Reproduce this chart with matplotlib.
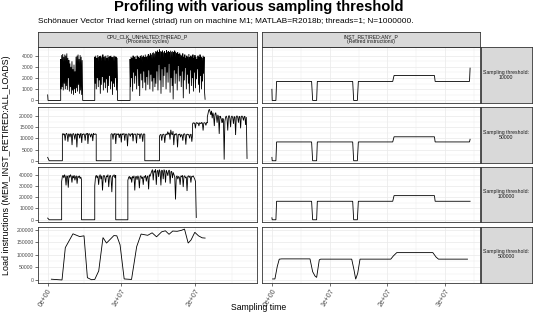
import numpy as np
import matplotlib
matplotlib.use("Agg")
import matplotlib.pyplot as plt
from matplotlib.ticker import MultipleLocator, FixedLocator, FixedFormatter, AutoMinorLocator, FuncFormatter

plt.rcParams['font.family'] = ['Liberation Sans', 'DejaVu Sans']

# ---------------- text ----------------
TITLE = "Profiling with various sampling threshold"
SUBTITLE = "Schönauer Vector Triad kernel (striad) run on machine M1; MATLAB=R2018b; threads=1; N=1000000."
col_labels = ["CPU_CLK_UNHALTED:THREAD_P\n(Processor cycles)", "INST_RETIRED:ANY_P\n(Retired instructions)"]
thresholds = [10000, 50000, 100000, 500000]
ylabel = "Load instructions (MEM_INST_RETIRED:ALL_LOADS)"
xlabel = "Sampling time"
y_steps = [1000, 5000, 10000, 50000]
x_ticks = [0, 1e7, 2e7, 3e7]
x_ticklabels = ["0e+00", "1e+07", "2e+07", "3e+07"]
TIME_UNIT = 1e7

# ---------------- data: left column (CPU cycles), segments (t0, t1, values) ----------------
r1_cyc_hi1 = [3700, 1000, 4050, 1200, 4150, 900, 3900, 1500, 4100, 1000, 4000, 1300, 4200, 950,
              3800, 2000, 3600, 800, 3300, 1200, 3000, 600, 3500, 900, 2800, 500, 3200, 1000, 2600,
              700, 3900, 1100, 4000, 800, 4100, 1400, 3700, 600, 4050, 900, 3900, 500, 3600, 400]
r1_cyc_hi2 = [3900, 1500, 4000, 1000, 3800, 2000, 4050, 1200, 3900, 1800, 3950, 600, 4000, 1400,
              3850, 2100, 4100, 900, 3900, 1600, 3950, 1100, 4000, 1900, 3800, 700, 4050, 1300, 3900,
              2200, 3950, 1000, 4000, 1700, 3850, 500, 3900, 1500, 4000, 1200, 3950, 2000, 3900, 900,
              3800, 1600]
r1_cyc_hi3 = [3700, 1200, 3900, 2000, 3800, 800, 4000, 2500, 3850, 1500, 3950, 2200, 3700, 1000,
              4000, 2800, 3900, 1300, 3800, 400, 3950, 2400, 4050, 1800, 3900, 1100, 4000, 2600, 3850,
              1600, 4100, 900, 3900, 2100, 4000, 1400, 4150, 2700, 4000, 1000, 4200, 2300, 4100, 1700,
              4250, 800, 4300, 2000, 4200, 1200,
              4400, 1500, 4350, 2600, 4450, 900, 4300, 3200, 4550, 1800, 4400, 600, 4350, 2800, 4450,
              1200, 4300, 2200, 4400, 3000, 4250, 1000, 4500, 2500, 4350, 1600, 4400, 3300, 4300, 700,
              4450, 2000, 4350, 1300, 4400, 100, 4300, 2700, 4450, 1500, 4350, 2400, 4200, 900, 4300,
              3100, 4150, 1700, 4250, 2200,
              4100, 1200, 4000, 2600, 4200, 200, 3900, 1800, 4100, 2900, 3800, 1000, 4000, 2300, 3900,
              1500, 4150, 600, 3850, 2700, 4000, 1300, 3900, 2000, 4100, 800, 3800, 2500, 4050, 1100,
              3900, 1900, 3700, 2800, 4000, 1400, 3850, 700, 4100, 2200, 3900, 1000, 3800, 1700, 4000,
              2400, 3900, 700, 100]
r1_cyc = [(0.0, 0.005, [500, 0]), (0.005, 0.177, [0, 0]), (0.177, 0.476, r1_cyc_hi1),
          (0.476, 0.64, [0, 0]), (0.64, 0.95, r1_cyc_hi2), (0.95, 1.12, [0, 0]),
          (1.12, 2.14, r1_cyc_hi3)]

r2_cyc_hi1 = [11800, 12200, 11500, 12000, 9000, 11800, 12300, 11600, 8500, 12000, 11900, 10500, 12100,
              11700, 7000, 11900, 12200, 11400, 9500, 12000, 11800, 6000, 12100, 11600, 12000, 10000,
              11800, 12200, 8000, 11900, 11700, 12100, 11500, 9000, 12000, 11800, 12300, 7500, 11900,
              12100, 11600, 10500, 12000, 11800, 8800, 12200, 11900, 11700, 12000, 11800]
r2_cyc_hi2 = [11700, 12100, 11900, 9500, 12000, 11800, 12200, 7500, 11900, 12000, 11600, 12100, 10200,
              11800, 12000, 8200, 12100, 11700, 11900, 12200, 9000, 11800, 12000, 11600, 6500, 11900,
              12100, 11800, 10800, 12000, 11700, 12200, 8700, 11900, 11800, 12000, 11500, 7800, 12100,
              11900, 11700, 12000, 9800, 11800, 12100, 11600, 8500, 11900, 12000, 11800]
r2_cyc_hi3 = [11000, 11600, 11800, 9000, 11500, 11900, 11700, 8000, 11600, 12000, 11500, 13000, 11800,
              12500, 9500, 13800, 12000, 11600, 13200, 7000, 11900, 11500, 12200, 11700, 6000, 11800,
              11600, 12000, 10500, 11700, 11500, 9000, 11800, 12100, 11600, 7200, 11700, 11900, 11500,
              11800, 10000, 11600, 11900, 8500, 11700]
r2_cyc_hi4 = [16500, 17000, 16700, 16900, 14500, 16800, 17100, 16600, 16900, 15500, 17000, 16800,
              16500, 17200, 16700, 13500, 16900, 17000, 16800, 15800, 17100, 16900]
r2_cyc_hi5 = [19500, 21000, 22500, 23000, 21800, 20500, 22300, 19000, 21500, 20000, 15500, 20800,
              21500, 19800, 17000, 20500, 19600, 12000, 20000, 19500, 18500, 17500]
r2_cyc_hi6 = [17000, 19000, 18500, 500, 17500, 19500, 20000, 18800, 13500, 19800, 20200, 19000, 15000,
              19600, 20000, 19200, 16500, 19800, 19500, 11500, 19700, 20100, 19300, 17000, 19900,
              19600, 14500, 19800, 20000, 19400, 18000, 19700, 19900, 16000, 19500, 1000]
r2_cyc = [(0.0, 0.02, [1500, 0]), (0.02, 0.2, [0, 0]), (0.2, 0.66, r2_cyc_hi1),
          (0.66, 0.86, [0, 0]), (0.86, 1.32, r2_cyc_hi2), (1.32, 1.52, [0, 0]),
          (1.52, 1.97, r2_cyc_hi3), (1.97, 2.17, r2_cyc_hi4), (2.17, 2.37, r2_cyc_hi5),
          (2.37, 2.71, r2_cyc_hi6)]

r3_cyc_hi1 = [34000, 38500, 39500, 37000, 40000, 38000, 30500, 39000, 38500, 28500, 39500, 37500,
              40000, 38500, 33000, 39000, 37000, 39500, 35000, 38000, 39000, 32000, 38500, 37500,
              39000, 36500, 38000, 35500]
r3_cyc_hi2 = [30000, 38000, 39500, 37000, 39000, 31000, 38500, 40000, 36000, 39000, 26000, 38500,
              39500, 37500, 33000, 39000, 38000, 40000, 29000, 38500, 39500, 37000, 24500, 39000,
              38500, 40000, 37000, 39500]
r3_cyc_hi3 = [35000, 37500, 38500, 36000, 38000, 33000, 38500, 37000, 39000, 26000, 38000, 38500,
              35500, 39000, 37500, 28000, 38500, 39000, 36500, 38000, 31000, 38500, 37500, 39500,
              34000, 38000, 39000, 27000, 40000, 38500, 41000,
              43000, 44500, 35000, 43500, 42000, 44800, 31000, 43000, 44000, 38000, 44500, 42500,
              30500, 44000, 43500, 36000, 44500, 43000, 33000, 44000, 42000, 39000, 43500, 44000,
              32000, 42500, 43000, 37000, 42000, 40000, 38000,
              18000, 38000, 39000, 36000, 38500, 37500, 31000, 39000, 38000, 39500, 29000, 38500,
              39000, 37000, 38000, 25500, 38500, 39000, 37500, 39000, 33000, 38500, 38000, 39000,
              37500, 36000, 34000, 2000]
r3_cyc = [(0.0, 0.02, [1500, 0]), (0.02, 0.19, [0, 0]), (0.19, 0.46, r3_cyc_hi1),
          (0.46, 0.64, [0, 0]), (0.64, 0.925, r3_cyc_hi2), (0.925, 1.09, [0, 0]),
          (1.09, 2.02, r3_cyc_hi3)]

r4_cyc_t = [0.05, 0.195, 0.24, 0.344, 0.435, 0.494, 0.54, 0.595, 0.64, 0.694, 0.752, 0.80, 0.90,
            0.94, 0.984, 1.04, 1.14, 1.21, 1.27, 1.36, 1.42, 1.48, 1.55, 1.60, 1.65, 1.70, 1.76,
            1.82, 1.86, 1.91, 1.95, 2.00, 2.05, 2.10, 2.14]
r4_cyc_v = [3000, 0, 129000, 184000, 173000, 176000, 9000, 1000, 2000, 36000, 169000, 147000, 177000,
            176000, 140000, 4000, 2000, 133000, 183000, 178000, 188000, 172000, 192000, 196000,
            182000, 195000, 194000, 198000, 203000, 147000, 160000, 190000, 176000, 168000, 167000]

# ---------------- data: right column (retired instructions) ----------------
ins_t = [0.0, 0.005, 0.069, 0.081, 0.687, 0.705, 0.774, 0.786, 1.398, 1.415, 1.479, 1.496,
         2.091, 2.114, 2.813, 2.825, 3.42, 3.43]
r1_ins_v = [1000, 0, 0, 1700, 1700, 0, 0, 1700, 1700, 0, 0, 1700, 1700, 2230, 2230, 1700, 1700, 2890]
r2_ins_v = [1500, 0, 0, 8400, 8400, 0, 0, 8400, 8400, 0, 0, 8400, 8400, 10700, 10700, 8400, 8400, 9600]
r3_ins_v = [1800, 0, 0, 16400, 16400, 0, 0, 16400, 16400, 0, 0, 16400, 16400, 21400, 21400, 16400,
            16400, 16400]
r4_ins_t = [0.012, 0.052, 0.092, 0.127, 0.168, 0.659, 0.705, 0.745, 0.774, 0.820, 0.843, 1.381, 1.421,
            1.450, 1.485, 1.525, 2.057, 2.103, 2.161, 2.785, 2.842, 2.883, 3.385]
r4_ins_v = [4000, 4000, 53000, 82800, 84000, 84000, 33000, 16000, 10000, 80000, 83000, 83000, 40000,
            3000, 27000, 83000, 83000, 96000, 109000, 109000, 91000, 83000, 83000]


def from_segments(segs):
    ts, vs = [], []
    for t0, t1, vals in segs:
        ts.append(np.linspace(t0, t1, len(vals)))
        vs.append(np.asarray(vals, dtype=float))
    return np.concatenate(ts) * TIME_UNIT, np.concatenate(vs)


left = [from_segments(r1_cyc), from_segments(r2_cyc), from_segments(r3_cyc),
        (np.asarray(r4_cyc_t) * TIME_UNIT, np.asarray(r4_cyc_v, dtype=float))]
right = [(np.asarray(ins_t) * TIME_UNIT, np.asarray(r1_ins_v, dtype=float)),
         (np.asarray(ins_t) * TIME_UNIT, np.asarray(r2_ins_v, dtype=float)),
         (np.asarray(ins_t) * TIME_UNIT, np.asarray(r3_ins_v, dtype=float)),
         (np.asarray(r4_ins_t) * TIME_UNIT, np.asarray(r4_ins_v, dtype=float))]
grid_data = [[left[r], right[r]] for r in range(4)]


def expand(lo, hi, m=0.05):
    d = hi - lo
    return lo - m * d, hi + m * d


col_xlim = []
for c in range(2):
    allt = np.concatenate([grid_data[r][c][0] for r in range(4)])
    col_xlim.append(expand(allt.min(), allt.max()))
row_ylim = []
for r in range(4):
    allv = np.concatenate([grid_data[r][c][1] for c in range(2)])
    row_ylim.append(expand(allv.min(), allv.max()))

# ---------------- layout (pixels) ----------------
W, H = 536, 313
fig = plt.figure(figsize=(W / 100, H / 100), dpi=100)


def rect(x0, x1, y0, y1):
    return [x0 / W, 1 - y1 / H, (x1 - x0) / W, (y1 - y0) / H]


col_px = [(37.7, 257.0), (262.0, 480.0)]
row_px = [(47.0, 103.0), (106.7, 163.3), (166.7, 222.3), (226.5, 282.5)]
strip_top = (31.5, 47.0)
strip_right = (481.0, 531.5)

BORDER = "#333333"
GRID = "#EBEBEB"
TICKC = "#4D4D4D"
STRIPF = "#D9D9D9"
small = 3.7

for r in range(4):
    for c in range(2):
        ax = fig.add_axes(rect(col_px[c][0], col_px[c][1], row_px[r][0], row_px[r][1]))
        t, v = grid_data[r][c]
        ax.plot(t, v, color="black", lw=0.6, solid_joinstyle="miter")
        ax.set_xlim(*col_xlim[c])
        ax.set_ylim(*row_ylim[r])
        ax.yaxis.set_major_locator(MultipleLocator(y_steps[r]))
        ax.yaxis.set_minor_locator(AutoMinorLocator(2))
        ax.xaxis.set_major_locator(FixedLocator(x_ticks))
        ax.xaxis.set_major_formatter(FixedFormatter(x_ticklabels))
        ax.xaxis.set_minor_locator(AutoMinorLocator(2))
        ax.yaxis.set_major_formatter(FuncFormatter(lambda y, p: "%d" % round(y)))
        ax.grid(True, which="major", color=GRID, lw=0.55)
        ax.grid(True, which="minor", color=GRID, lw=0.3)
        ax.set_axisbelow(True)
        for s in ax.spines.values():
            s.set_color(BORDER)
            s.set_linewidth(0.6)
        ax.tick_params(which="minor", length=0)
        ax.tick_params(which="major", length=2, width=0.5, color=BORDER,
                       labelsize=small, labelcolor=TICKC, pad=1)
        if c != 0:
            ax.tick_params(axis="y", which="major", left=False, labelleft=False)
        if r != 3:
            ax.tick_params(axis="x", which="major", bottom=False, labelbottom=False)
        else:
            ax.tick_params(axis="x", which="major", labelsize=5.0, pad=1.5)
            for lab in ax.get_xticklabels():
                lab.set_rotation(60)
                lab.set_ha("right")
                lab.set_va("top")
                lab.set_rotation_mode("anchor")

# top strips
for c in range(2):
    sax = fig.add_axes(rect(col_px[c][0], col_px[c][1], strip_top[0], strip_top[1]))
    sax.set_facecolor(STRIPF)
    sax.set_xticks([]); sax.set_yticks([])
    for s in sax.spines.values():
        s.set_color(BORDER); s.set_linewidth(0.6)
    sax.text(0.5, 0.5, col_labels[c], ha="center", va="center", fontsize=small,
             color="#1A1A1A", transform=sax.transAxes, linespacing=1.0)

# right strips
for r in range(4):
    sax = fig.add_axes(rect(strip_right[0], strip_right[1], row_px[r][0], row_px[r][1]))
    sax.set_facecolor(STRIPF)
    sax.set_xticks([]); sax.set_yticks([])
    for s in sax.spines.values():
        s.set_color(BORDER); s.set_linewidth(0.6)
    sax.text(0.5, 0.5, "Sampling threshold:\n%d" % thresholds[r], ha="center", va="center",
             fontsize=small, color="#1A1A1A", transform=sax.transAxes, linespacing=1.0)

fig.text(259 / W, 1 - 11.5 / H, TITLE, ha="center", va="baseline", fontsize=10.6, fontweight="bold")
fig.text(38.3 / W, 1 - 23 / H, SUBTITLE, ha="left", va="baseline", fontsize=5.95)
fig.text(7 / W, 1 - 164.75 / H, ylabel, ha="center", va="center", rotation=90, fontsize=6.4)
fig.text(259 / W, 0.6 / H, xlabel, ha="center", va="bottom", fontsize=6.2)

fig.savefig("out.png", dpi=100)
